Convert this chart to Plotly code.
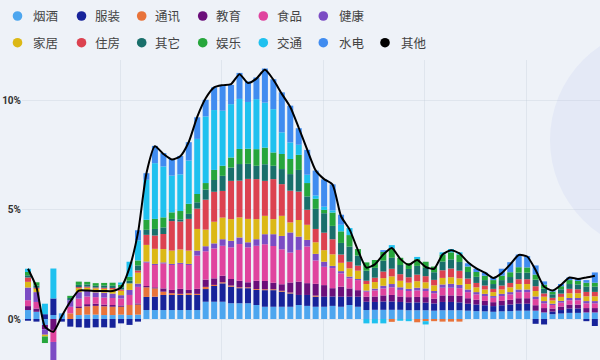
import plotly.graph_objects as go

n = 68
x = list(range(n))

yanjiu = [0.41, 0.33, -0.27, 0.18, 0.26, 0, 0.18, 0.2, 0.2, 0.18,
          0.18, 0.2, 0.18, 0.2, 0.41, 0.41, 0.41, 0.41, 0.41, 0.41,
          0.41, 0.79, 0.79, 0.79, 0.72, 0.72, 0.72, 0.64, 0.56, 0.56,
          0.56, 0.56, 0.64, 0.6, 0.56, 0.56, 0.6, 0.56, 0.64, 0.56,
          0.41, 0.42, 0.42, 0.42, 0.42, 0.4, 0.4, 0.4, 0.38, 0.4,
          0.4, 0.4, 0.38, 0.36, 0.35, 0.33, 0.35, 0.36, 0.38, 0.38,
          0.38, 0.3, 0.22, 0.25, 0.28, 0.28, 0.3, 0.3]
fuzhuang = [-0.08, -0.12, 0.22, 0.76, -0.12, -0.35, -0.38, -0.4, -0.38, -0.38,
            -0.4, -0.2, -0.27, -0.12, 0.6, 0.61, 0.69, 0.69, 0.69, 0.69,
            0.69, 0.58, 0.72, 0.84, 0.76, 0.69, 0.69, 0.69, 0.76, 0.76,
            0.69, 0.61, 0.46, 0.5, 0.46, 0.46, 0.43, 0.46, 0.38, 0.46,
            0.38, 0.36, 0.38, 0.38, 0.36, 0.35, 0.36, 0.35, 0.33, 0.38,
            0.38, 0.36, 0.32, 0.3, 0.28, 0.26, 0.28, 0.3, 0.32, 0.32,
            -0.22, -0.25, 0.12, 0.16, 0.2, 0.2, -0.1, -0.32]
tongxun = [0, 0, 0, 0, 0, 0.26, 0.32, 0.38, 0.4, 0.4,
           0.38, 0.36, 0.46, 0.46, 0.44, 0.38, 0.15, 0.08, 0.05, 0.08,
           0.05, 0.1, 0.05, 0.05, 0.05, 0.04, 0.04, 0.04, 0.04, 0.04,
           0.04, 0.04, 0, 0, 0.05, 0, 0, 0, 0, 0,
           0, 0, 0, -0.13, 0, 0, -0.15, -0.1, -0.1, -0.12,
           -0.12, -0.12, 0, 0, 0, 0, 0, 0, 0, 0,
           0, 0, 0, 0, 0, 0, 0, 0]
jiaoyu = [0.18, 0.15, -0.2, -0.5, 0, 0, 0.08, 0.1, 0.1, 0.08,
          0.08, 0.06, 0, 0.05, 0.06, 0.05, 0.15, 0.15, 0.23, 0.15,
          0.23, 0.33, 0.3, 0.3, 0.3, 0.3, 0.23, 0.38, 0.38, 0.3,
          0.3, 0.46, 0.61, 0.54, 0.54, 0.53, 0.38, 0.46, 0.38, 0.3,
          0.23, 0.25, 0.28, 0.3, 0.25, 0.25, 0.25, 0.25, 0.22, 0.3,
          0.3, 0.3, 0.25, 0.22, 0.2, 0.18, 0.2, 0.22, 0.25, 0.25,
          0.25, 0.2, 0.14, 0.16, 0.18, 0.18, 0.2, 0.2]
shipin = [0.27, 0.3, 0, -0.55, 0, 0.3, 0.35, 0.35, 0.3, 0.32,
          0.32, 0.32, 0.46, 0.76, 1.07, 1.02, 1.14, 1.14, 1.14, 1.14,
          1.52, 1.3, 1.37, 1.37, 1.45, 1.68, 1.6, 1.6, 1.68, 1.68,
          1.6, 1.37, 1.45, 1.68, 1.07, 0.84, 0.92, 0.61, 0.46, 0.46,
          0.23, 0.28, 0.32, 0.35, 0.3, 0.28, 0.3, 0.28, 0.25, 0.35,
          0.35, 0.35, 0.28, 0.25, 0.22, 0.2, 0.22, 0.25, 0.28, 0.28,
          0.28, 0.22, 0.16, 0.18, 0.2, 0.2, 0.22, 0.22]
jiankang = [0.58, 0.45, -0.25, -1.0, 0, 0.3, 0.3, 0.25, 0.22, 0.22,
            0.2, 0.15, 0.23, 0.15, 0.05, 0.05, 0.05, 0.05, 0.05, 0.05,
            0.23, 0.23, 0.23, 0.3, 0.3, 0.3, 0.23, 0.3, 0.46, 0.54,
            0.61, 0.92, 0.61, 0.3, 0.3, 0.23, 0.1, 0.1, 0.08, 0.05,
            0.05, 0.08, 0.12, 0.15, 0.12, 0.1, 0.12, 0.12, 0.1, 0.15,
            0.18, 0.15, 0.12, 0.1, 0.1, 0.08, 0.1, 0.1, 0.12, 0.12,
            0.12, 0.1, 0.06, 0.08, 0.1, 0.1, 0.1, 0.1]
jiaju = [0.26, 0.15, -0.08, -0.3, 0, 0, 0.18, 0.15, 0.18, 0.18,
         0.2, 0.2, 0.3, 0.5, 0.76, 0.69, 0.61, 0.61, 0.61, 0.61,
         0.99, 0.76, 0.99, 0.99, 0.99, 0.92, 1.07, 0.92, 0.84, 0.69,
         0.92, 0.46, 0.76, 0.69, 0.53, 0.53, 0.53, 0.38, 0.38, 0.38,
         0.3, 0.3, 0.35, 0.35, 0.3, 0.28, 0.3, 0.28, 0.26, 0.3,
         0.3, 0.3, 0.25, 0.22, 0.2, 0.18, 0.2, 0.22, 0.25, 0.25,
         0.25, 0.2, 0.15, 0.18, 0.22, 0.22, 0.22, 0.22]
zhufang = [0.2, 0.05, 0, 0, 0, 0, 0.05, 0.05, 0.04, 0.05,
           0.06, 0.06, 0, 0.1, 0.46, 0.61, 0.69, 1.35, 1.28, 1.45,
           0.93, 1.37, 1.37, 1.22, 1.75, 1.68, 1.83, 1.83, 1.6, 1.83,
           1.45, 1.45, 1.3, 0.69, 0.61, 0.8, 0.69, 0.38, 0.3, 0.23,
           0.15, 0.2, 0.3, 0.35, 0.3, 0.25, 0.3, 0.28, 0.25, 0.35,
           0.4, 0.35, 0.25, 0.2, 0.18, 0.15, 0.18, 0.2, 0.22, 0.22,
           0.22, 0.15, 0.12, 0.15, 0.2, 0.18, 0.2, 0.2]
qita = [0.1, 0.1, 0, -0.24, 0, 0.1, 0.1, 0.1, 0.08, 0.1,
        0.1, 0.1, 0.12, 0.23, 0.23, 0.3, 0.3, 0.1, 0.1, 0.23,
        0.29, 0.46, 0.54, 0.69, 0.61, 0.76, 0.69, 0.61, 0.76, 0.61,
        0.69, 0.76, 0.99, 0.61, 0.92, 0.89, 0.61, 0.53, 0.69, 0.46,
        0.46, 0.45, 0.5, 0.5, 0.42, 0.38, 0.4, 0.38, 0.35, 0.4,
        0.42, 0.4, 0.3, 0.28, 0.25, 0.22, 0.25, 0.27, 0.3, 0.3,
        0.3, 0.22, 0.16, 0.2, 0.22, 0.22, 0.24, 0.24]
yule = [0.15, 0.15, -0.3, -0.3, 0, 0.1, 0.15, 0.12, 0.12, 0.12,
        0.14, 0.12, 0.18, 0.23, 0.46, 0.46, 0.46, 0.3, 0.38, 0.46,
        0.38, 0.3, 0.46, 0.46, 0.46, 0.69, 0.69, 0.76, 0.76, 0.61,
        0.69, 0.69, 0.69, 0.61, 0.46, 0.15, 0.61, 0.53, 0.53, 0.3,
        0.38, 0.36, 0.4, 0.43, 0.33, 0.27, 0.31, 0.28, 0.26, 0.32,
        0.32, 0.34, 0.25, 0.22, 0.2, 0.18, 0.2, 0.22, 0.25, 0.24,
        0.23, 0.18, 0.12, 0.14, 0.18, 0.16, 0.18, 0.18]
jiaotong = [0.15, 0, 0.48, 1.37, 0, 0, 0, 0, 0, 0,
            0, 0.1, 0.69, 0.92, 1.83, 2.55, 2.33, 1.68, 1.68, 1.98,
            2.52, 3.05, 2.74, 2.52, 2.44, 2.29, 2.14, 2.29, 2.06, 1.98,
            0.99, 0.76, 0.46, 0.38, 0.15, 0.15, 0.1, 0.3, 0.32, 0,
            -0.2, -0.2, -0.2, 0.15, -0.08, -0.1, 0.1, -0.15, 0, 0.1,
            0.15, 0.1, 0, 0, 0, 0, 0, 0, 0, 0,
            0, 0, 0, 0, 0, 0, 0, 0]
shuidian = [0, 0, 0, 0, 0, 0, 0, 0, 0, 0,
            0, 0, 0, 0.46, 0.3, 0.79, 0.61, 0.76, 0.84, 0.84,
            0.99, 0.76, 1.04, 1.14, 0.88, 1.19, 0.94, 0.99, 1.56, 1.37,
            1.83, 1.68, 0.76, 1.14, 1.14, 1.25, 1.19, 0.46, 0, 0,
            0, 0, 0.08, 0, 0, 0, 0, 0, 0, 0,
            0, 0, 0.15, 0.15, 0.14, 0.14, 0.32, 0.46, 0.58, 0.52,
            0.42, 0.15, 0.08, 0.1, 0.12, 0.12, 0.12, 0.47]
qita_total = [2.3, 1.45, -0.35, -0.58, 0.14, 0.8, 1.3, 1.3, 1.28, 1.28,
              1.28, 1.45, 2.35, 3.95, 6.67, 7.9, 7.55, 7.3, 7.45, 8.1,
              9.25, 10.1, 10.6, 10.7, 10.75, 11.2, 10.8, 11.0, 11.4, 10.95,
              10.3, 9.7, 8.75, 7.75, 6.8, 6.4, 6.15, 4.7, 4.1, 3.15,
              2.35, 2.5, 2.95, 3.25, 2.75, 2.48, 2.7, 2.38, 2.3, 2.95,
              3.15, 3.0, 2.6, 2.32, 2.12, 1.88, 2.1, 2.5, 2.93, 2.86,
              2.24, 1.48, 1.3, 1.56, 1.9, 1.83, 1.9, 1.98]

bar_names = ["烟酒", "服装", "通讯", "教育", "食品", "健康",
             "家居", "住房", "其它", "娱乐", "交通", "水电"]
bar_colors = ["#4da6ef", "#17239a", "#e8733a", "#6b0f7a", "#e0449e", "#7b4cc4",
              "#dcb816", "#dc4250", "#196f6b", "#26a63c", "#1fc1ef", "#408cf0"]
bar_series = [yanjiu, fuzhuang, tongxun, jiaoyu, shipin, jiankang,
              jiaju, zhufang, qita, yule, jiaotong, shuidian]
line_name = "其他"
y_ticks = [0, 5, 10]
y_ticktext = ["0%", "5%", "10%"]

W, H = 600, 360
ML, MR, MT, MB = 22, 0, 60, 0
PW, PH = W - ML - MR, H - MT - MB


def px_to_paper(px, py):
    return (px - ML) / PW, (H - MB - py) / PH


fig = go.Figure()
for name, color, vals in zip(bar_names, bar_colors, bar_series):
    fig.add_trace(go.Bar(x=x, y=vals, name=name, legendgroup=name,
                         marker=dict(color=color, line=dict(width=0)),
                         showlegend=False))
fig.add_trace(go.Scatter(x=x, y=qita_total, name=line_name, legendgroup=line_name,
                         mode="lines", showlegend=False,
                         line=dict(color="#000000", width=2, shape="spline", smoothing=0.6)))

# legend drawn as circles + text (two rows)
legend_items = list(zip(bar_names, bar_colors)) + [(line_name, "#000000")]
row_marker_x = [17.5, 81.5, 141.7, 202.7, 263.3, 323.3, 385.0]
row_text_x = [31.0, 92.5, 152.7, 213.7, 274.5, 337.0, 398.5]
row_y = [16.0, 42.7]
shapes = [dict(type="circle", xref="paper", yref="paper", layer="below",
               x0=px_to_paper(550, 0)[0], x1=px_to_paper(777, 0)[0],
               y0=px_to_paper(0, 253.5)[1], y1=px_to_paper(0, 26.5)[1],
               fillcolor="#e4e9f6", line=dict(width=0))]
annotations = []
for idx, (name, color) in enumerate(legend_items):
    row, col = (0, idx) if idx < 6 else (1, idx - 6)
    cx, cy = px_to_paper(row_marker_x[col], row_y[row])
    tx, _ = px_to_paper(row_text_x[col], row_y[row])
    shapes.append(dict(type="circle", xref="paper", yref="paper",
                       xsizemode="pixel", ysizemode="pixel",
                       xanchor=cx, yanchor=cy, x0=-4.8, x1=4.8, y0=-4.8, y1=4.8,
                       fillcolor=color, line=dict(width=0), layer="above"))
    annotations.append(dict(text=name, xref="paper", yref="paper", x=tx, y=cy,
                            xanchor="left", yanchor="middle", showarrow=False,
                            font=dict(family="Noto Sans CJK SC", size=12.5, color="#444444")))

fig.update_layout(
    width=W, height=H,
    margin=dict(l=ML, r=MR, t=MT, b=MB),
    paper_bgcolor="#eef2f8", plot_bgcolor="#eef2f8",
    barmode="relative", bargap=0.29,
    showlegend=False,
    xaxis=dict(range=[-0.71, 67.61], showticklabels=False, ticks="",
               tickvals=[10.9, 22.9, 34.9, 46.9, 58.9],
               showgrid=True, gridcolor="rgba(190,198,212,0.3)", gridwidth=1,
               zeroline=False, showline=False),
    yaxis=dict(range=[-1.876, 11.85], tickvals=y_ticks, ticktext=y_ticktext,
               showgrid=True, gridcolor="rgba(190,198,212,0.3)", gridwidth=1,
               zeroline=False, showline=False, automargin=False,
               tickfont=dict(family="Roboto", size=10, color="#333333", weight="bold"),
               ticks=""),
    shapes=shapes,
    annotations=annotations,
    hovermode=False,
)

fig.write_html("out.html",
               config={"displayModeBar": False, "staticPlot": True},
               post_script="document.body.style.margin='0px';"
                           "document.body.style.background='#eef2f8';")
